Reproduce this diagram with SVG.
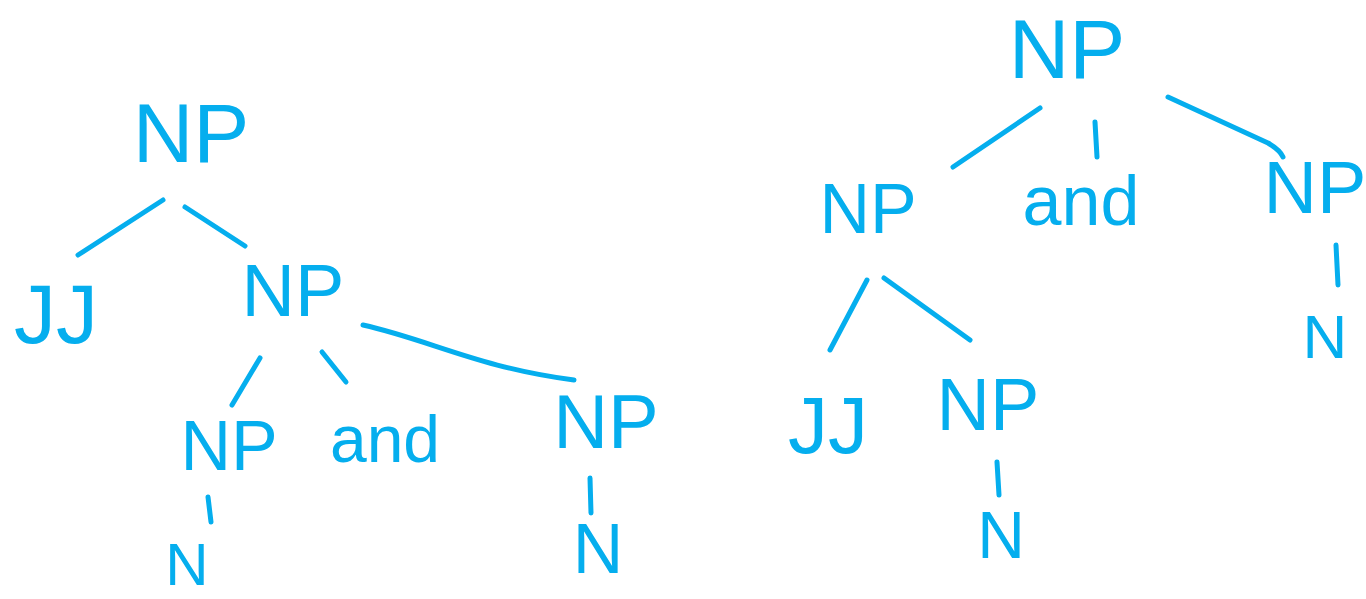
<svg xmlns="http://www.w3.org/2000/svg" width="1366" height="599" viewBox="0 0 1366 599">
  <style>
    .lbl { font-family: "Liberation Sans", Arial, sans-serif; fill: #05AEEE; text-anchor: middle; }
    .edge { fill: none; stroke: #05AEEE; stroke-width: 5; stroke-linecap: round; stroke-linejoin: round; }
  </style>
  <rect width="1366" height="599" fill="#ffffff"/>

  <!-- Left tree: [NP [JJ] [NP [NP N] and [NP N]]] -->
  <g id="connectors-left">
    <path class="edge" d="M78,255 L163,200"/>
    <path class="edge" d="M185,207 L245,246"/>
    <path class="edge" d="M260,358 L232,405"/>
    <path class="edge" d="M322,352 L346,382"/>
    <path class="edge" d="M363,325 C430,340 480,368 574,380"/>
    <path class="edge" d="M208,497 L211,522"/>
    <path class="edge" d="M590,478 L591,513"/>
  </g>
  <g id="l-np-root"><text class="lbl" x="191" y="162" font-size="84">NP</text></g>
  <g id="l-jj"><text class="lbl" x="56" y="343" font-size="84">JJ</text></g>
  <g id="l-np-mid"><text class="lbl" x="293" y="316" font-size="74">NP</text></g>
  <g id="l-np-a"><text class="lbl" x="229" y="470" font-size="70">NP</text></g>
  <g id="l-and"><text class="lbl" x="385" y="462" font-size="66">and</text></g>
  <g id="l-np-b"><text class="lbl" x="606" y="448" font-size="76">NP</text></g>
  <g id="l-n-a"><text class="lbl" x="187" y="585" font-size="60">N</text></g>
  <g id="l-n-b"><text class="lbl" x="598" y="573" font-size="70">N</text></g>

  <!-- Right tree: [NP [NP [JJ] [NP N]] and [NP N]] -->
  <g id="connectors-right">
    <path class="edge" d="M953,167 L1040,108"/>
    <path class="edge" d="M1095,122 L1097,157"/>
    <path class="edge" d="M1168,97 L1268,143 Q1280,150 1283,157"/>
    <path class="edge" d="M867,280 L830,350"/>
    <path class="edge" d="M884,278 L970,340"/>
    <path class="edge" d="M1336,245 L1338,285"/>
    <path class="edge" d="M997,462 L999,495"/>
  </g>
  <g id="r-np-root"><text class="lbl" x="1067" y="78" font-size="84">NP</text></g>
  <g id="r-np-left"><text class="lbl" x="868" y="233" font-size="70">NP</text></g>
  <g id="r-and"><text class="lbl" x="1081" y="225" font-size="70">and</text></g>
  <g id="r-np-right"><text class="lbl" x="1315" y="213" font-size="74">NP</text></g>
  <g id="r-n-right"><text class="lbl" x="1325" y="358" font-size="62">N</text></g>
  <g id="r-jj"><text class="lbl" x="828" y="453" font-size="80">JJ</text></g>
  <g id="r-np-inner"><text class="lbl" x="988" y="430" font-size="74">NP</text></g>
  <g id="r-n-inner"><text class="lbl" x="1001" y="558" font-size="66">N</text></g>
</svg>
